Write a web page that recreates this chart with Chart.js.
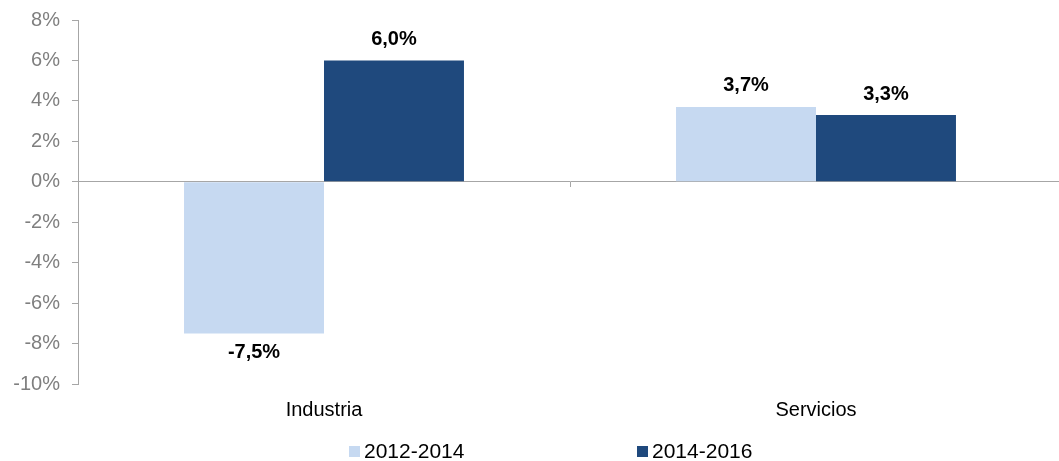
<!DOCTYPE html>
<html>
<head>
<meta charset="utf-8">
<script src="https://cdn.jsdelivr.net/npm/chart.js@4"></script>
<style>
    html, body { margin: 0; padding: 0; background: #fff; }
    #wrap { position: relative; width: 1059px; height: 461px; overflow: hidden; }
    #legend { position: absolute; left: 0; top: 440px; width: 1059px; height: 20px;
        font-family: "Liberation Sans", Arial, sans-serif; font-size: 21px; color: #000; }
    #legend span.item { position: absolute; top: 0; white-space: nowrap; line-height: 22px; }
    #legend span.box { display: inline-block; width: 11px; height: 11px; margin-right: 4px; vertical-align: 1px; }
</style>
</head>
<body>
<div id="wrap">
    <canvas id="chart" width="1062" height="461"></canvas>
    <div id="legend"></div>
</div>
<script>
// --- データ ---
const categories = ['Industria', 'Servicios'];
const seriesNames = ['2012-2014', '2014-2016'];
const values2012_2014 = [-7.5, 3.7];
const values2014_2016 = [6.0, 3.3];
const yTicks = [8, 6, 4, 2, 0, -2, -4, -6, -8, -10];

const colorLight = '#C6D9F1';
const colorDark = '#1F497D';
const axisColor = '#A6A6A6';
const fontFamily = '"Liberation Sans", Arial, sans-serif';

// 値ラベル (例: 6,0%)
function fmt(v) {
    return v.toFixed(1).replace('.', ',') + '%';
}

const valueLabels = {
    id: 'valueLabels',
    afterDatasetsDraw(chart) {
        const c = chart.ctx;
        c.save();
        c.font = 'bold 20px ' + fontFamily;
        c.fillStyle = '#000';
        c.textAlign = 'center';
        c.textBaseline = 'middle';
        chart.data.datasets.forEach((ds, di) => {
            const meta = chart.getDatasetMeta(di);
            meta.data.forEach((bar, i) => {
                const v = ds.data[i];
                const y = v >= 0 ? bar.y - 21 : bar.y + 19;
                c.fillText(fmt(v), bar.x, y);
            });
        });
        c.restore();
    }
};

const ctx = document.getElementById('chart').getContext('2d');
const chart = new Chart(ctx, {
    type: 'bar',
    data: {
        labels: categories,
        datasets: [
            { label: seriesNames[0], data: values2012_2014, backgroundColor: colorLight },
            { label: seriesNames[1], data: values2014_2016, backgroundColor: colorDark }
        ]
    },
    options: {
        responsive: false,
        animation: false,
        devicePixelRatio: 1,
        categoryPercentage: 0.569,
        barPercentage: 1,
        layout: { padding: { top: 20, right: 0, bottom: 33, left: 0 } },
        plugins: {
            legend: { display: false },
            tooltip: { enabled: false }
        },
        scales: {
            x: {
                grid: { display: false },
                border: { display: false },
                ticks: { color: '#000', font: { family: fontFamily, size: 20 }, padding: 6 }
            },
            x2: {
                type: 'category',
                labels: categories,
                position: { y: 0 },
                offset: true,
                grid: { offset: true, drawOnChartArea: false, drawTicks: true, tickLength: 5, color: axisColor },
                border: { color: axisColor },
                ticks: { display: false }
            },
            y: {
                min: -10,
                max: 8,
                afterBuildTicks: s => { s.ticks = yTicks.map(v => ({ value: v })); },
                afterFit: s => { s.width = 78; s.paddingTop = 0; s.paddingBottom = 0; },
                grid: { drawOnChartArea: false, drawTicks: true, tickLength: 6, color: axisColor },
                border: { color: axisColor },
                ticks: {
                    color: '#7F7F7F',
                    font: { family: fontFamily, size: 20 },
                    padding: 12,
                    callback: v => v + '%'
                }
            }
        }
    },
    plugins: [valueLabels]
});

// --- 凡例 ---
const legend = document.getElementById('legend');
const legendX = [349, 637];
[colorLight, colorDark].forEach((col, i) => {
    const s = document.createElement('span');
    s.className = 'item';
    s.style.left = legendX[i] + 'px';
    s.innerHTML = '<span class="box" style="background:' + col + '"></span>' + seriesNames[i];
    legend.appendChild(s);
});
</script>
</body>
</html>
